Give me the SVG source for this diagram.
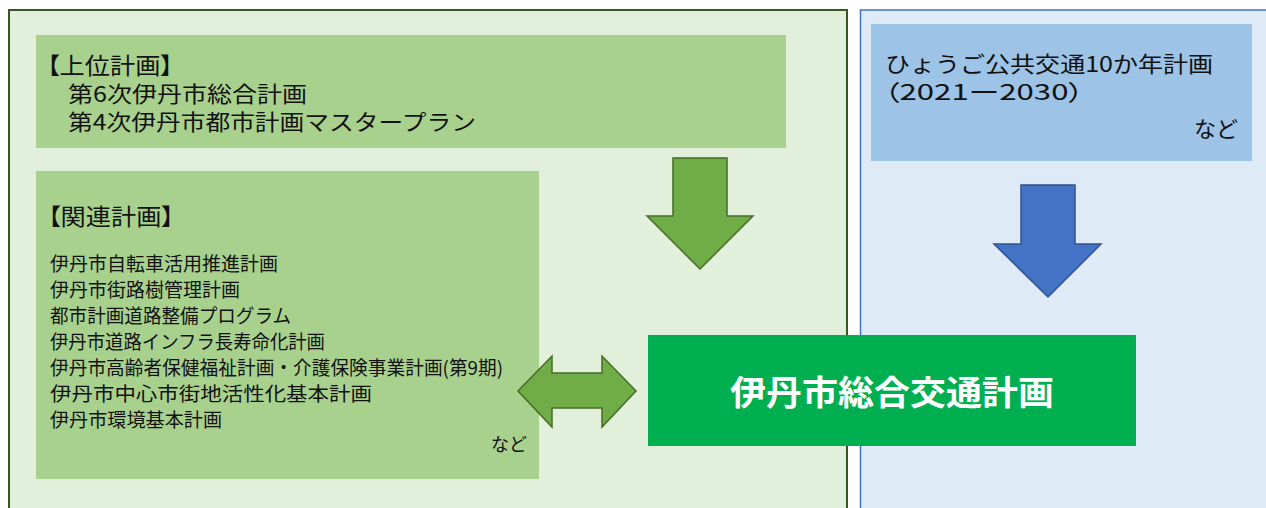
<svg xmlns="http://www.w3.org/2000/svg" width="1266" height="508" viewBox="0 0 1266 508">
<style>
text{font-family:"Noto Sans CJK JP","Noto Sans",sans-serif;fill:#111}
.h{font-size:23px;font-feature-settings:"palt"}
.t{font-size:22px}
.s{font-size:19px}
.n{font-size:18px}
.main{font-size:34px;font-weight:bold;fill:#fff}
.garrow{fill:#70AD47;stroke:#436D28;stroke-width:1.5}
.barrow{fill:#4472C4;stroke:#2F528F;stroke-width:1.5}
</style>
<g id="panel-left">
<rect x="9" y="10" width="838" height="520" fill="#E2EFDA" stroke="#375623" stroke-width="2"/>
</g>
<g id="panel-right">
<rect x="860.5" y="10" width="430" height="520" fill="#DEEBF7" stroke="#4472C4" stroke-width="1.5"/>
</g>
<g id="upper-plan">
<rect x="36" y="35" width="750" height="113" fill="#A9D18E"/>
<text class="h" x="47" y="74" textLength="126" lengthAdjust="spacingAndGlyphs">【上位計画】</text>
<text class="t" x="68" y="102" textLength="239" lengthAdjust="spacingAndGlyphs">第6次伊丹市総合計画</text>
<text class="t" x="68" y="130" textLength="408" lengthAdjust="spacingAndGlyphs">第4次伊丹市都市計画マスタープラン</text>
</g>
<g id="related-plan">
<rect x="36" y="171" width="503" height="308" fill="#A9D18E"/>
<text class="h" x="48" y="225" textLength="126" lengthAdjust="spacingAndGlyphs">【関連計画】</text>
<text class="s" x="50" y="271" textLength="228" lengthAdjust="spacingAndGlyphs">伊丹市自転車活用推進計画</text>
<text class="s" x="50" y="297" textLength="190" lengthAdjust="spacingAndGlyphs">伊丹市街路樹管理計画</text>
<text class="s" x="50" y="323" textLength="241" lengthAdjust="spacingAndGlyphs">都市計画道路整備プログラム</text>
<text class="s" x="50" y="349" textLength="275" lengthAdjust="spacingAndGlyphs">伊丹市道路インフラ長寿命化計画</text>
<text class="s" x="50" y="375" textLength="453" lengthAdjust="spacingAndGlyphs">伊丹市高齢者保健福祉計画・介護保険事業計画(第9期)</text>
<text class="s" x="50" y="401" textLength="322" lengthAdjust="spacingAndGlyphs">伊丹市中心市街地活性化基本計画</text>
<text class="s" x="50" y="427" textLength="172" lengthAdjust="spacingAndGlyphs">伊丹市環境基本計画</text>
<text class="n" x="527" y="451" text-anchor="end">など</text>
</g>
<g id="hyogo-plan">
<rect x="871" y="24" width="381" height="137" fill="#9DC3E6"/>
<text class="t" x="885" y="72" textLength="328" lengthAdjust="spacingAndGlyphs">ひょうご公共交通10か年計画</text>
<text class="t" x="884" y="100" style="font-feature-settings:'palt'" textLength="200" lengthAdjust="spacingAndGlyphs">（2021ー2030）</text>
<text class="t" x="1238" y="137" text-anchor="end">など</text>
</g>
<g id="main-plan">
<rect x="648" y="335" width="488" height="111" fill="#00B050"/>
<text class="main" x="892" y="405" text-anchor="middle" textLength="324" lengthAdjust="spacingAndGlyphs">伊丹市総合交通計画</text>
</g>
<g id="connectors">
<polygon class="garrow" points="673,158 727,158 727,216 753,216 700,269 647,216 673,216"/>
<polygon class="barrow" points="1021,185 1075,185 1075,244 1101,244 1048,297 994,244 1021,244"/>
<polygon class="garrow" points="518,391 552,356 552,373 602,373 602,356 636,391 602,427 602,408 552,408 552,427"/>
</g>
</svg>
